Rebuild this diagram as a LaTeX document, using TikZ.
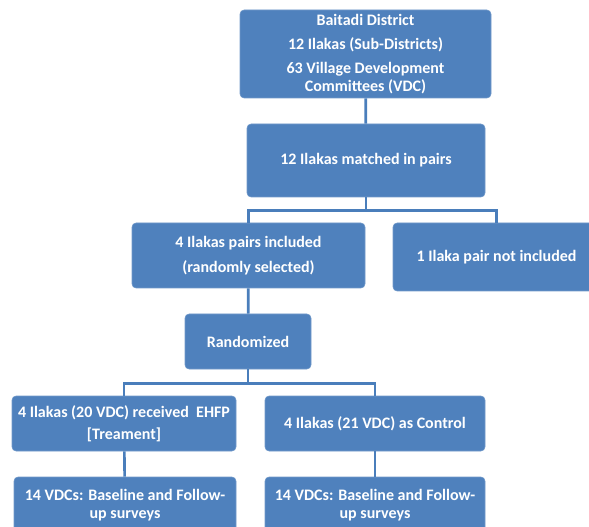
\documentclass[tikz,border=0pt]{standalone}
\usepackage{fontspec}
\setmainfont{Carlito}
\definecolor{boxblue}{HTML}{4F81BD}
\definecolor{lineblue}{HTML}{4A7EBB}
\newcommand{\px}{0.75pt}
\tikzset{
  blk/.style={rectangle, rounded corners=3pt, fill=boxblue, draw=boxblue!80!white,
    text=white, font=\bfseries\fontsize{12}{13.5}\selectfont, align=center,
    inner sep=0pt},
  link/.style={draw=lineblue, line width=2pt}
}
\begin{document}
\begin{tikzpicture}[x=0.75pt, y=-0.75pt]
\clip (0,0) rectangle (589,527);
\useasboundingbox (0,0) rectangle (589,527);

\node[blk, minimum width=251*\px, minimum height=88*\px] (dist) at (365.5,54)
  {Baitadi District\\[4.5pt] 12 Ilakas (Sub-Districts)\\[4.5pt] 63 Village Development\\ Committees (VDC)};

\node[blk, minimum width=238*\px, minimum height=73*\px] (pairs) at (366,160.5)
  {12 Ilakas matched in pairs};

\node[blk, minimum width=233*\px, minimum height=65*\px] (incl) at (248.5,255.5)
  {4 Ilakas pairs included\\[5pt] (randomly selected)};

\node[blk, minimum width=207*\px, minimum height=68*\px] (notincl) at (496.5,257)
  {1 Ilaka pair not included};

\node[blk, minimum width=126*\px, minimum height=55*\px] (rand) at (248,341.5)
  {Randomized};

\node[blk, minimum width=224*\px, minimum height=55*\px] (treat) at (124,423.5)
  {4 Ilakas (20 VDC) received~ EHFP\\[3pt] [Treament]};

\node[blk, minimum width=220*\px, minimum height=55*\px] (ctrl) at (375,423.5)
  {4 Ilakas (21 VDC) as Control};

\node[blk, minimum width=222*\px, minimum height=56*\px] (fu1) at (125,505)
  {14 VDCs: Baseline and Follow-\\ up surveys};

\node[blk, minimum width=220*\px, minimum height=56*\px] (fu2) at (375,505)
  {14 VDCs: Baseline and Follow-\\ up surveys};

% connectors
\draw[link] (dist) -- (pairs);
\draw[link] (pairs.south) -- +(0,13) -| (incl.north);
\draw[link] (pairs.south) -- +(0,13) -| (notincl.north);
\draw[link] (incl) -- (rand);
\draw[link] (rand.south) -- +(0,14) -| (treat.north);
\draw[link] (rand.south) -- +(0,14) -| (ctrl.north);
\draw[link] (treat) -- (fu1);
\draw[link] (ctrl) -- (fu2);
\end{tikzpicture}
\end{document}
